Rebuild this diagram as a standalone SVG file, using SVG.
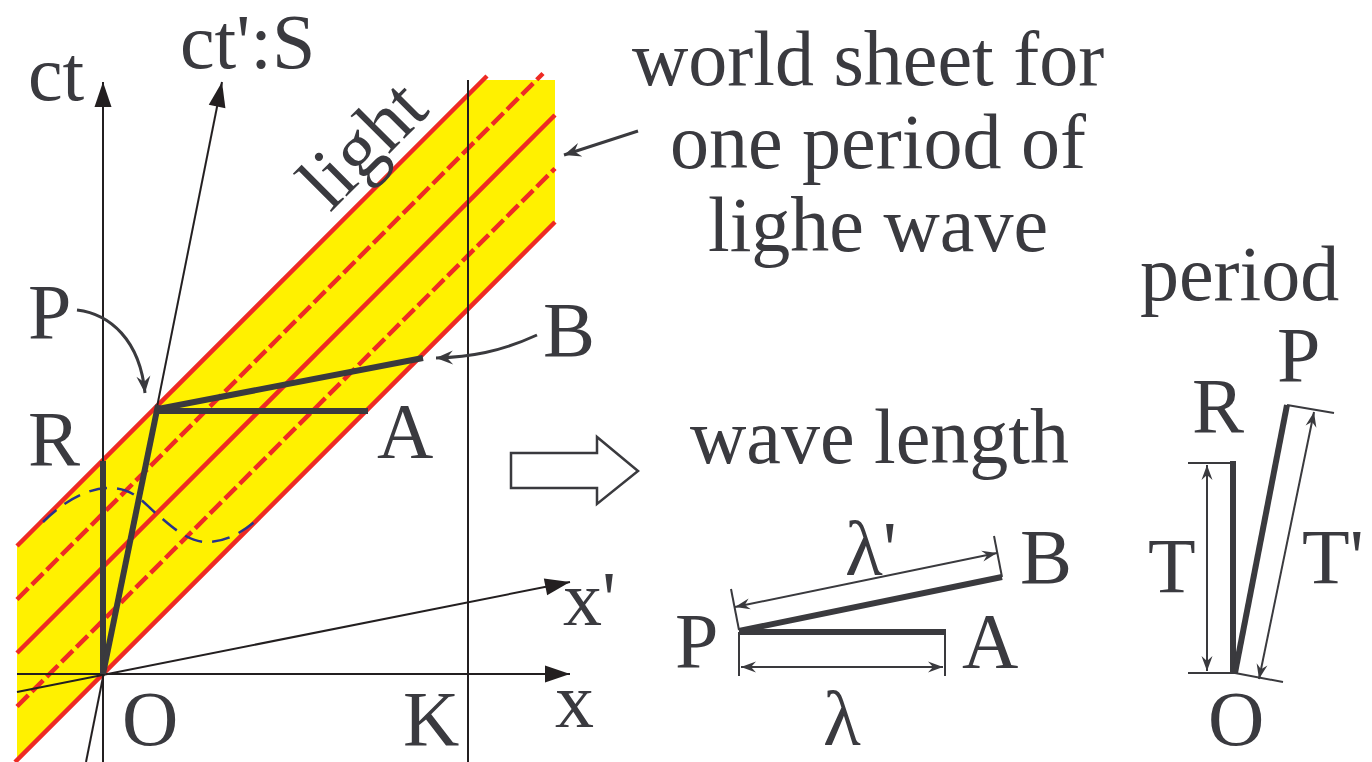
<svg xmlns="http://www.w3.org/2000/svg" width="1372" height="762" viewBox="0 0 1372 762">
<style>
  text { font-family: "Liberation Serif", "DejaVu Serif", "Times New Roman", serif; font-size: 78px; fill: #3a3a3f; }
  .ax { stroke: #231f20; stroke-width: 2; fill: none; }
  .thick { stroke: #3a3a3e; stroke-width: 6; fill: none; stroke-linecap: butt; }
  .thin { stroke: #3a3a3e; stroke-width: 2; fill: none; }
  .red { stroke: #ee2a24; stroke-width: 4.5; fill: none; }
  .reddash { stroke: #ee2a24; stroke-width: 4.5; fill: none; stroke-dasharray: 16 5; }
  .blue { stroke: #27348b; stroke-width: 2.5; fill: none; stroke-dasharray: 18 10; }
  .call { stroke: #3a3a3e; stroke-width: 3; fill: none; }
</style>
<defs>
  <marker id="axhead" markerUnits="userSpaceOnUse" viewBox="-26 -10 28 20" refX="0" refY="0" markerWidth="28" markerHeight="20" orient="auto">
    <path d="M0,0 L-25,-8.5 L-25,8.5 Z" fill="#231f20"/>
  </marker>
  <marker id="barb" markerUnits="userSpaceOnUse" viewBox="-18 -10 20 20" refX="0" refY="0" markerWidth="20" markerHeight="20" orient="auto">
    <path d="M0,0 L-17,-7 L-11,0 L-17,7 Z" fill="#3a3a3e"/>
  </marker>
  <marker id="dim" markerUnits="userSpaceOnUse" viewBox="-16 -8 18 16" refX="0" refY="0" markerWidth="18" markerHeight="16" orient="auto-start-reverse">
    <path d="M0,0 L-15,-5.5 L-10,0 L-15,5.5 Z" fill="#3a3a3e"/>
  </marker>
</defs>

<g id="world-sheet">
  <polygon points="17,546 483,80 555,80 555,222 15,762 17,762" fill="#fff100"/>
  <line class="red" x1="17" y1="546" x2="487" y2="76"/>
  <line class="reddash" x1="17" y1="599.5" x2="543" y2="73.5"/>
  <line class="red" x1="17" y1="653" x2="555" y2="115"/>
  <line class="reddash" x1="17" y1="706.5" x2="555" y2="168.5"/>
  <line class="red" x1="15" y1="762" x2="555" y2="222"/>
  <path class="blue" d="M43,522 C65,500 88,488 110,488 C135,488 145,505 158,515 C172,527 188,542 207,542 C228,542 245,530 257,520"/>
</g>

<g id="axes">
  <line class="ax" x1="103" y1="762" x2="103" y2="82" marker-end="url(#axhead)"/>
  <line class="ax" x1="86" y1="762" x2="222" y2="82" marker-end="url(#axhead)"/>
  <line class="ax" x1="17" y1="674" x2="570" y2="674" marker-end="url(#axhead)"/>
  <line class="ax" x1="17" y1="692" x2="570" y2="582" marker-end="url(#axhead)"/>
  <line class="ax" x1="468" y1="80" x2="468" y2="762"/>
</g>

<g id="segments">
  <line class="thick" x1="103" y1="461" x2="103" y2="674"/>
  <line class="thick" x1="103" y1="674" x2="158" y2="405"/>
  <line class="thick" x1="158" y1="411" x2="368" y2="411"/>
  <line class="thick" x1="158" y1="409" x2="423" y2="358"/>
</g>

<g id="connectors">
  <path class="call" d="M77,310 C110,314 140,340 145,393" marker-end="url(#barb)"/>
  <path class="call" d="M537,335 C500,352 470,357 436,358" marker-end="url(#barb)"/>
  <line class="call" x1="638" y1="131" x2="564" y2="155" marker-end="url(#barb)"/>
</g>

<g id="labels-left">
  <text x="28" y="100">ct</text>
  <text x="180" y="68">ct':S</text>
  <text transform="translate(330,213) rotate(-45)">light</text>
  <text x="28" y="338">P</text>
  <text x="28" y="465">R</text>
  <text x="377" y="457">A</text>
  <text x="543" y="356">B</text>
  <text x="563" y="625">x'</text>
  <text x="555" y="727">x</text>
  <text x="122" y="745">O</text>
  <text x="403" y="745">K</text>
</g>

<g id="caption">
  <text x="632" y="85">world sheet for</text>
  <text x="670" y="168">one period of</text>
  <text x="708" y="251">lighe wave</text>
</g>

<g id="big-arrow">
  <polygon points="511,453 597,453 597,437 638,471 597,504 597,488 511,488" fill="#ffffff" stroke="#3a3a3e" stroke-width="2.5" stroke-linejoin="miter"/>
</g>

<g id="wave-length">
  <text x="690" y="463">wave length</text>
  <line class="thick" stroke-width="5" x1="739" y1="632" x2="946" y2="632"/>
  <line class="thick" stroke-width="5" x1="739" y1="631" x2="1002" y2="577"/>
  <line class="thin" x1="739" y1="632" x2="739" y2="676"/>
  <line class="thin" x1="945" y1="632" x2="945" y2="676"/>
  <line class="thin" x1="741" y1="667" x2="943" y2="667" marker-start="url(#dim)" marker-end="url(#dim)"/>
  <line class="thin" x1="739" y1="630" x2="731" y2="589"/>
  <line class="thin" x1="1002" y1="577" x2="994" y2="536"/>
  <line class="thin" x1="735" y1="607" x2="997" y2="553" marker-start="url(#dim)" marker-end="url(#dim)"/>
  <text x="845" y="575">λ'</text>
  <text x="1020" y="583">B</text>
  <text x="675" y="667">P</text>
  <text x="962" y="667">A</text>
  <text x="823" y="745">λ</text>
</g>

<g id="period">
  <text x="1140" y="300">period</text>
  <line class="thick" stroke-width="5" x1="1233" y1="461" x2="1233" y2="673"/>
  <line class="thick" stroke-width="5" x1="1235" y1="673" x2="1287" y2="405"/>
  <line class="thin" x1="1188" y1="463" x2="1233" y2="463"/>
  <line class="thin" x1="1188" y1="673" x2="1235" y2="673"/>
  <line class="thin" x1="1287" y1="405" x2="1334" y2="413"/>
  <line class="thin" x1="1235" y1="673" x2="1283" y2="682"/>
  <line class="thin" x1="1207" y1="465" x2="1207" y2="671" marker-start="url(#dim)" marker-end="url(#dim)"/>
  <line class="thin" x1="1259" y1="679" x2="1314" y2="412" marker-start="url(#dim)" marker-end="url(#dim)"/>
  <text x="1277" y="381">P</text>
  <text x="1192" y="432">R</text>
  <text x="1148" y="592">T</text>
  <text x="1302" y="583">T'</text>
  <text x="1208" y="745">O</text>
</g>
</svg>
